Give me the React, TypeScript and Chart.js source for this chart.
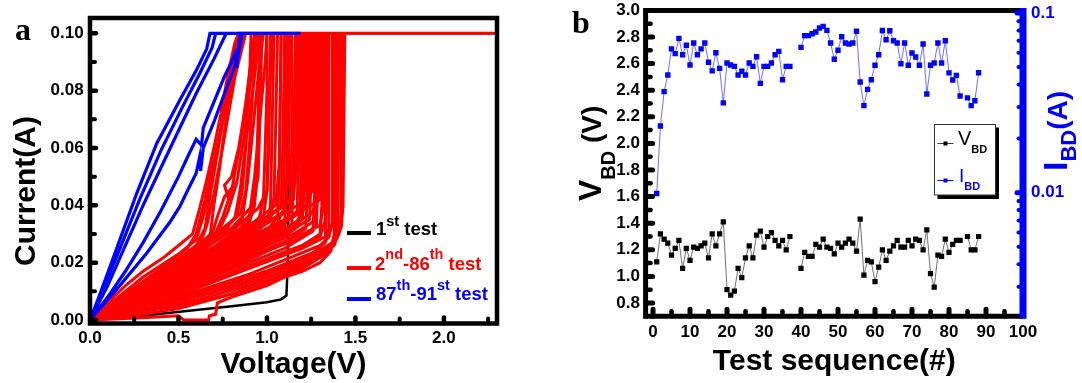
import React, { useEffect, useRef } from "react";
import { Chart, registerables } from "chart.js";

Chart.register(...registerables);

const W = 1082;
const H = 383;
const SANS = '"Liberation Sans", Arial, Helvetica, sans-serif';
const SERIF = '"Liberation Serif", "Times New Roman", serif';

// ================= Panel a : I-V sweeps (Voltage V, Current A) =================
const FIRST_TEST: number[][] = [
  [0, 0], [0.2, 0.0008], [0.4, 0.0022], [0.6, 0.0035], [0.8, 0.0048], [1.0, 0.0062],
  [1.08, 0.0072], [1.11, 0.0085], [1.115, 0.016], [1.12, 0.025], [1.125, 0.1], [2.3, 0.1],
];

const TESTS_2_TO_86: number[][][] = [
  [[0, 0], [0.1, 0.006], [0.2, 0.012], [0.3, 0.017], [0.41, 0.0215], [0.5, 0.026], [0.58, 0.03], [0.62, 0.039], [0.66, 0.049], [0.7, 0.06], [0.74, 0.072], [0.78, 0.086], [0.82, 0.097], [0.84, 0.1], [2.3, 0.1]],
  [[0, 0], [0.1, 0.005], [0.2, 0.01], [0.3, 0.015], [0.4, 0.019], [0.5, 0.023], [0.6, 0.028], [0.64, 0.036], [0.68, 0.047], [0.72, 0.06], [0.76, 0.074], [0.8, 0.087], [0.84, 0.097], [0.86, 0.1]],
  [[0, 0], [0.2, 0.008], [0.4, 0.016], [0.55, 0.022], [0.62, 0.026], [0.66, 0.033], [0.7, 0.044], [0.74, 0.057], [0.78, 0.071], [0.82, 0.085], [0.86, 0.095], [0.88, 0.1]],
  [[0, 0], [0.2, 0.007], [0.4, 0.014], [0.6, 0.022], [0.68, 0.028], [0.72, 0.036], [0.76, 0.043], [0.8, 0.046], [0.78, 0.043], [0.76, 0.047], [0.8, 0.05], [0.84, 0.06], [0.88, 0.075], [0.91, 0.09], [0.93, 0.1]],
  [[0, 0], [0.2, 0.007], [0.4, 0.015], [0.6, 0.024], [0.75, 0.031], [0.83, 0.036], [0.86, 0.045], [0.88, 0.06], [0.9, 0.08], [0.91, 0.1]],
  [[0, 0], [0.2, 0.009], [0.4, 0.018], [0.55, 0.025], [0.6, 0.03], [0.65, 0.042], [0.7, 0.056], [0.76, 0.072], [0.82, 0.088], [0.87, 0.1]],
  [[0, 0], [0.2, 0.008], [0.4, 0.017], [0.6, 0.026], [0.65, 0.032], [0.68, 0.044], [0.72, 0.058], [0.76, 0.073], [0.8, 0.088], [0.84, 0.1]],
  [[0, 0], [0.2, 0.008], [0.4, 0.016], [0.6, 0.025], [0.68, 0.03], [0.7, 0.04], [0.73, 0.052], [0.76, 0.066], [0.8, 0.082], [0.84, 0.096], [0.86, 0.1]],
  [[0, 0], [0.3, 0.011], [0.6, 0.024], [0.7, 0.029], [0.75, 0.036], [0.8, 0.045], [0.85, 0.062], [0.89, 0.08], [0.92, 0.095], [0.94, 0.1]],
  [[0, 0], [0.3, 0.011], [0.6, 0.023], [0.72, 0.03], [0.78, 0.038], [0.83, 0.048], [0.87, 0.064], [0.9, 0.08], [0.93, 0.095], [0.95, 0.1]],
  [[0, 0], [0.3, 0.01], [0.6, 0.022], [0.75, 0.03], [0.82, 0.036], [0.85, 0.046], [0.88, 0.062], [0.92, 0.08], [0.96, 0.1]],
  [[0, 0], [0.3, 0.01], [0.6, 0.021], [0.8, 0.03], [0.86, 0.035], [0.89, 0.048], [0.92, 0.066], [0.95, 0.085], [0.98, 0.1]],
  [[0, 0], [0.3, 0.009], [0.6, 0.02], [0.85, 0.031], [0.9, 0.036], [0.93, 0.05], [0.96, 0.07], [0.99, 0.09], [1.0, 0.1]],
  [[0, 0], [0.2, 0.006], [0.4, 0.013], [0.6, 0.021], [0.8, 0.029], [0.9, 0.034], [0.93, 0.04], [0.95, 0.055], [0.96, 0.075], [0.97, 0.1]],
  [[0, 0], [0.2, 0.006], [0.4, 0.012], [0.6, 0.019], [0.8, 0.027], [0.95, 0.034], [0.98, 0.042], [0.99, 0.06], [1.0, 0.08], [1.0, 0.1]],
  [[0, 0], [0.2, 0.005], [0.4, 0.011], [0.6, 0.018], [0.8, 0.025], [1.0, 0.034], [1.02, 0.04], [1.03, 0.07], [1.04, 0.1]],
  [[0, 0], [0.2, 0.005], [0.4, 0.011], [0.6, 0.017], [0.8, 0.024], [1.0, 0.031], [1.06, 0.036], [1.07, 0.05], [1.08, 0.1]],
  [[0, 0], [0.2, 0.005], [0.4, 0.01], [0.6, 0.016], [0.8, 0.022], [1.0, 0.029], [1.1, 0.034], [1.11, 0.045], [1.12, 0.1]],
  [[0, 0], [0.3, 0.007], [0.6, 0.015], [0.8, 0.021], [1.0, 0.027], [1.14, 0.033], [1.15, 0.05], [1.16, 0.1]],
  [[0, 0], [0.3, 0.007], [0.6, 0.014], [0.9, 0.023], [1.1, 0.029], [1.18, 0.033], [1.19, 0.045], [1.2, 0.1]],
  [[0, 0], [0.3, 0.006], [0.6, 0.013], [0.9, 0.021], [1.1, 0.027], [1.22, 0.032], [1.23, 0.05], [1.24, 0.1]],
  [[0, 0], [0.3, 0.006], [0.6, 0.013], [0.9, 0.02], [1.1, 0.025], [1.26, 0.031], [1.27, 0.045], [1.28, 0.1]],
  [[0, 0], [0.3, 0.006], [0.6, 0.012], [0.9, 0.019], [1.2, 0.026], [1.3, 0.03], [1.31, 0.04], [1.32, 0.1]],
  [[0, 0], [0.3, 0.005], [0.6, 0.011], [0.9, 0.018], [1.2, 0.025], [1.33, 0.029], [1.34, 0.045], [1.35, 0.1]],
  [[0, 0], [0.2, 0.008], [0.4, 0.016], [0.6, 0.025], [0.75, 0.032], [0.85, 0.037], [0.88, 0.045], [0.9, 0.06], [0.92, 0.08], [0.94, 0.1]],
  [[0, 0], [0.2, 0.007], [0.4, 0.015], [0.6, 0.023], [0.8, 0.031], [0.95, 0.039], [1.0, 0.045], [1.01, 0.06], [1.02, 0.1]],
  [[0, 0], [0.2, 0.007], [0.4, 0.014], [0.6, 0.022], [0.8, 0.029], [1.0, 0.036], [1.12, 0.041], [1.16, 0.048], [1.17, 0.1]],
  [[0, 0], [0.3, 0.009], [0.6, 0.019], [0.9, 0.028], [1.1, 0.034], [1.2, 0.038], [1.24, 0.042], [1.25, 0.1]],
  [[0, 0], [0.3, 0.008], [0.6, 0.017], [0.9, 0.026], [1.1, 0.032], [1.25, 0.037], [1.28, 0.041], [1.29, 0.1]],
  [[0, 0], [0.3, 0.009], [0.6, 0.019], [0.8, 0.027], [1.0, 0.035], [1.08, 0.04], [1.09, 0.06], [1.1, 0.1]],
  [[0, 0], [0.2, 0.007], [0.4, 0.015], [0.6, 0.024], [0.8, 0.032], [0.92, 0.04], [0.95, 0.05], [0.96, 0.07], [0.97, 0.1]],
  [[0, 0], [0.3, 0.009], [0.6, 0.019], [0.9, 0.031], [0.98, 0.036], [1.0, 0.045], [1.01, 0.07], [1.03, 0.1]],
  [[0, 0], [0.3, 0.008], [0.6, 0.018], [0.9, 0.029], [1.02, 0.035], [1.04, 0.043], [1.05, 0.07], [1.06, 0.1]],
  [[0, 0], [0.3, 0.008], [0.6, 0.017], [0.9, 0.027], [1.05, 0.033], [1.09, 0.038], [1.1, 0.06], [1.11, 0.1]],
  [[0, 0], [0.3, 0.007], [0.6, 0.016], [0.9, 0.026], [1.1, 0.033], [1.13, 0.038], [1.14, 0.06], [1.14, 0.1]],
  [[0, 0], [0.3, 0.008], [0.6, 0.017], [0.9, 0.027], [1.1, 0.034], [1.17, 0.038], [1.18, 0.06], [1.19, 0.1]],
  [[0, 0], [0.3, 0.007], [0.6, 0.015], [0.9, 0.025], [1.1, 0.031], [1.2, 0.035], [1.21, 0.05], [1.22, 0.1]],
  [[0, 0], [0.3, 0.007], [0.6, 0.015], [0.9, 0.024], [1.1, 0.03], [1.24, 0.035], [1.25, 0.05], [1.26, 0.1]],
  [[0, 0], [0.3, 0.006], [0.6, 0.014], [0.9, 0.023], [1.15, 0.03], [1.28, 0.035], [1.29, 0.05], [1.3, 0.1]],
  [[0, 0], [0.3, 0.006], [0.6, 0.014], [0.9, 0.022], [1.2, 0.03], [1.3, 0.033], [1.32, 0.04], [1.33, 0.1]],
  [[0, 0], [0.3, 0.01], [0.6, 0.021], [0.85, 0.032], [0.92, 0.038], [0.94, 0.05], [0.95, 0.07], [0.96, 0.1]],
  [[0, 0], [0.3, 0.01], [0.6, 0.02], [0.9, 0.033], [1.05, 0.04], [1.07, 0.055], [1.08, 0.1]],
  [[0, 0], [0.3, 0.009], [0.6, 0.019], [0.9, 0.03], [1.1, 0.038], [1.12, 0.05], [1.13, 0.1]],
  [[0, 0], [0.3, 0.008], [0.6, 0.018], [0.9, 0.028], [1.2, 0.038], [1.22, 0.05], [1.23, 0.1]],
  [[0, 0], [0.3, 0.009], [0.6, 0.02], [0.9, 0.032], [1.15, 0.042], [1.17, 0.06], [1.18, 0.1]],
  [[0, 0], [0.3, 0.009], [0.6, 0.019], [0.9, 0.03], [1.2, 0.041], [1.26, 0.045], [1.27, 0.1]],
  [[0, 0], [0.3, 0.008], [0.6, 0.018], [0.9, 0.029], [1.2, 0.038], [1.3, 0.042], [1.31, 0.1]],
  [[0, 0], [0.3, 0.005], [0.6, 0.01], [0.9, 0.016], [1.1, 0.021], [1.3, 0.026], [1.35, 0.029], [1.37, 0.034], [1.37, 0.1]],
  [[0, 0], [0.4, 0.006], [0.7, 0.011], [1.0, 0.017], [1.2, 0.022], [1.32, 0.025], [1.37, 0.027], [1.39, 0.031], [1.39, 0.1]],
  [[0, 0], [0.4, 0.005], [0.7, 0.01], [0.9, 0.014], [1.13, 0.0186], [1.3, 0.023], [1.36, 0.0256], [1.4, 0.029], [1.42, 0.0326], [1.43, 0.04], [1.44, 0.1]],
  [[0, 0], [0.4, 0.005], [0.74, 0.0105], [1.0, 0.016], [1.15, 0.02], [1.3, 0.024], [1.38, 0.027], [1.41, 0.031], [1.42, 0.037], [1.42, 0.1]],
  [[0, 0], [0.3, 0.002], [0.5, 0.004], [0.74, 0.008], [1.0, 0.013], [1.15, 0.017], [1.3, 0.022], [1.37, 0.026], [1.4, 0.03], [1.41, 0.1]],
  [[0, 0], [0.3, 0.0008], [0.5, 0.0015], [0.52, 0.0005], [0.53, 0], [0.67, 0], [0.675, 0.0015], [0.71, 0.002], [0.72, 0.006], [0.8, 0.008], [1.0, 0.012], [1.2, 0.018], [1.33, 0.023], [1.38, 0.028], [1.4, 0.035], [1.4, 0.1]],
  [[0, 0], [0.3, 0.004], [0.6, 0.009], [0.9, 0.015], [1.1, 0.019], [1.25, 0.023], [1.33, 0.027], [1.35, 0.032], [1.35, 0.1]],
  [[0, 0], [0.3, 0.003], [0.6, 0.007], [0.9, 0.012], [1.1, 0.016], [1.25, 0.02], [1.35, 0.024], [1.39, 0.028], [1.4, 0.1]],
  [[0, 0], [0.3, 0.004], [0.6, 0.008], [0.9, 0.013], [1.1, 0.017], [1.3, 0.022], [1.38, 0.026], [1.42, 0.033], [1.43, 0.1]],
  [[0, 0], [0.3, 0.003], [0.5, 0.005], [0.8, 0.009], [1.0, 0.013], [1.2, 0.017], [1.3, 0.02], [1.36, 0.024], [1.38, 0.03], [1.38, 0.1]],
  [[0, 0], [0.2, 0.004], [0.5, 0.01], [0.8, 0.016], [1.0, 0.021], [1.2, 0.026], [1.3, 0.029], [1.33, 0.035], [1.34, 0.1]],
  [[0, 0], [0.2, 0.005], [0.5, 0.012], [0.8, 0.019], [1.0, 0.024], [1.2, 0.029], [1.28, 0.033], [1.29, 0.1]],
  [[0, 0], [0.2, 0.005], [0.5, 0.013], [0.8, 0.022], [1.0, 0.028], [1.15, 0.033], [1.2, 0.037], [1.21, 0.1]],
];

const TESTS_87_TO_91: number[][][] = [
  [[0, 0], [0.05, 0.008], [0.141, 0.0233], [0.264, 0.0442], [0.377, 0.0616], [0.508, 0.0767], [0.6, 0.087], [0.659, 0.0945], [0.678, 0.1], [1.19, 0.1]],
  [[0, 0], [0.05, 0.007], [0.15, 0.022], [0.28, 0.042], [0.4, 0.059], [0.52, 0.074], [0.62, 0.086], [0.69, 0.095], [0.71, 0.1]],
  [[0, 0], [0.1, 0.012], [0.2, 0.026], [0.3, 0.04], [0.4, 0.053], [0.5, 0.066], [0.6, 0.079], [0.7, 0.091], [0.77, 0.1]],
  [[0, 0], [0.132, 0.0093], [0.32, 0.0233], [0.45, 0.034], [0.508, 0.0396], [0.55, 0.045], [0.6, 0.0512], [0.62, 0.057], [0.625, 0.052], [0.64, 0.06], [0.7, 0.069], [0.76, 0.079], [0.81, 0.087], [0.84, 0.093], [0.86, 0.1]],
  [[0, 0], [0.1, 0.008], [0.2, 0.017], [0.3, 0.027], [0.4, 0.038], [0.5, 0.05], [0.56, 0.058], [0.6, 0.063], [0.63, 0.061], [0.64, 0.067], [0.7, 0.076], [0.76, 0.085], [0.8, 0.09], [0.82, 0.093], [0.83, 0.088], [0.84, 0.096], [0.85, 0.1]],
];

// ================= Panel b : V_BD and I_BD vs test sequence =================
const TEST_SEQ: number[] = [
  1, 2, 3, 4, 5, 6, 7, 8, 9, 10, 11, 12, 13, 14, 15, 16, 17, 18, 19, 20,
  21, 22, 23, 24, 25, 26, 27, 28, 29, 30, 31, 32, 33, 34, 35, 36, 37, 38, 39, 40,
  41, 42, 43, 44, 45, 46, 47, 48, 49, 50, 51, 52, 53, 54, 55, 56, 57, 58, 59, 60,
  61, 62, 63, 64, 65, 66, 67, 68, 69, 70, 71, 72, 73, 74, 75, 76, 77, 78, 79, 80,
  81, 82, 83, 84, 85, 86, 87, 88,
];

const V_BD: (number | null)[] = [
  1.11, 1.32, 1.28, 1.25, 1.16, 1.21, 1.27, 1.06, 1.21, 1.12,
  1.22, 1.21, 1.23, 1.25, 1.14, 1.32, 1.23, 1.32, 1.41, 0.9,
  0.86, 0.89, 1.06, 0.99, 1.14, 1.23, 1.14, 1.31, 1.34, 1.22,
  1.3, 1.33, 1.27, 1.23, 1.27, 1.2, 1.3, null, null, 1.06,
  1.18, 1.15, 1.15, 1.24, 1.22, 1.28, 1.22, 1.21, 1.17, 1.25,
  1.22, 1.25, 1.28, 1.25, 1.19, 1.43, 1.01, 1.12, 1.11, 0.96,
  1.07, 1.2, 1.12, 1.19, 1.23, 1.27, 1.22, 1.22, 1.27, 1.23,
  1.28, 1.27, 1.2, 1.35, 1.02, 0.92, 1.16, 1.15, 1.28, 1.18,
  1.24, 1.27, 1.27, null, 1.3, 1.2, 1.2, 1.3,
];

const I_BD: (number | null)[] = [
  0.0099, 0.0235, 0.0365, 0.0452, 0.0631, 0.0594, 0.0723, 0.0586, 0.0661, 0.0514,
  0.0681, 0.0586, 0.0631, 0.0681, 0.0532, 0.0476, 0.0601, 0.0492, 0.0316, 0.0527,
  0.0514, 0.0505, 0.0452, 0.0474, 0.0452, 0.0527, 0.0505, 0.0571, 0.0406, 0.0505,
  0.0505, 0.0527, 0.0586, 0.0612, 0.0425, 0.0505, 0.0505, null, null, 0.0644,
  0.0748, 0.0748, 0.0767, 0.0784, 0.0825, 0.0843, 0.0801, 0.0681, 0.0553, 0.062,
  0.0738, 0.0681, 0.0672, 0.0681, 0.0791, 0.0413, 0.0305, 0.0376, 0.0425, 0.0512,
  0.0586, 0.0799, 0.071, 0.0797, 0.0701, 0.0681, 0.0522, 0.0681, 0.0512, 0.0599,
  0.0569, 0.0512, 0.0672, 0.0354, 0.0512, 0.0527, 0.0681, 0.0527, 0.0701, 0.0464,
  0.0424, 0.045, 0.0345, null, 0.0337, 0.0305, 0.0325, 0.0465,
];

const I_AXIS_TICKS: number[] = [
  0.003, 0.004, 0.005, 0.006, 0.007, 0.008, 0.009, 0.01,
  0.02, 0.03, 0.04, 0.05, 0.06, 0.07, 0.08, 0.09, 0.1,
];
const I_AXIS_LABELS: number[] = [0.01, 0.1];

// ================= helpers =================
type Part = { t: string; s: number; dy?: number; w?: string };

function seg(ctx: CanvasRenderingContext2D, x1: number, y1: number, x2: number, y2: number) {
  ctx.beginPath();
  ctx.moveTo(x1, y1);
  ctx.lineTo(x2, y2);
  ctx.stroke();
}

function rich(ctx: CanvasRenderingContext2D, x: number, y: number, parts: Part[], color: string) {
  ctx.fillStyle = color;
  ctx.textAlign = "left";
  ctx.textBaseline = "alphabetic";
  let cx = x;
  for (const p of parts) {
    ctx.font = `${p.w ?? "bold"} ${p.s}px ${SANS}`;
    ctx.fillText(p.t, cx, y + (p.dy ?? 0));
    cx += ctx.measureText(p.t).width;
  }
}

const tickFont = { family: SANS, size: 17, weight: "bold" as const };

// ================= panel a decorations =================
const panelAPlugin = {
  id: "panelA",
  afterDraw(chart: any) {
    const { ctx } = chart;
    const { left, right, top, bottom } = chart.chartArea;
    const xs = chart.scales.x;
    const ys = chart.scales.y;
    ctx.save();
    ctx.strokeStyle = "#000";
    ctx.lineCap = "round";
    for (let i = 0; i <= 10; i++) {
      const py = ys.getPixelForValue(i / 100);
      const major = i % 2 === 0;
      ctx.lineWidth = major ? 4.5 : 4;
      seg(ctx, left, py, left + (major ? 6 : 5), py);
    }
    for (let i = 1; i <= 9; i++) {
      const px = xs.getPixelForValue(i * 0.25);
      const major = i % 2 === 0;
      ctx.lineWidth = major ? 4.5 : 4;
      seg(ctx, px, bottom, px, bottom - (major ? 6 : 5));
    }
    ctx.lineCap = "butt";
    ctx.lineWidth = 4.5;
    ctx.strokeRect(left, top, right - left, bottom - top);

    // panel letter
    ctx.fillStyle = "#000";
    ctx.font = `bold 32px ${SERIF}`;
    ctx.textAlign = "left";
    ctx.textBaseline = "alphabetic";
    ctx.fillText("a", 15, 40);

    // axis titles
    ctx.font = `bold 30px ${SANS}`;
    ctx.textAlign = "center";
    ctx.fillText("Voltage(V)", (left + right) / 2, 373);
    ctx.save();
    ctx.translate(34.5, 191);
    ctx.rotate(-Math.PI / 2);
    ctx.fillText("Current(A)", 0, 0);
    ctx.restore();

    // legend
    ctx.lineWidth = 4;
    ctx.strokeStyle = "#000";
    seg(ctx, 347, 233, 371, 233);
    rich(ctx, 376, 235, [{ t: "1", s: 18.5 }, { t: "st", s: 14.5, dy: -9 }, { t: " test", s: 18.5 }], "#000");
    ctx.strokeStyle = "#ff0000";
    seg(ctx, 347, 268, 371, 268);
    rich(ctx, 375, 270, [{ t: "2", s: 18.5 }, { t: "nd", s: 14.5, dy: -11 }, { t: "-86", s: 18.5 }, { t: "th", s: 14.5, dy: -11 }, { t: " test", s: 18.5 }], "#ff0000");
    ctx.strokeStyle = "#0000ff";
    seg(ctx, 347, 299, 371, 299);
    rich(ctx, 376, 300, [{ t: "87", s: 18.5 }, { t: "th", s: 14.5, dy: -10 }, { t: "-91", s: 18.5 }, { t: "st", s: 14.5, dy: -10 }, { t: " test", s: 18.5 }], "#0000ff");
    ctx.restore();
  },
};

// ================= panel b decorations =================
const panelBPlugin = {
  id: "panelB",
  afterDraw(chart: any) {
    const { ctx } = chart;
    const { left, right, top, bottom } = chart.chartArea;
    const xs = chart.scales.x;
    const ys = chart.scales.y;
    const y2 = chart.scales.y2;
    ctx.save();
    ctx.strokeStyle = "#000";
    ctx.lineCap = "round";
    for (let i = 8; i <= 30; i++) {
      const py = ys.getPixelForValue(i / 10);
      const major = i % 2 === 0;
      ctx.lineWidth = major ? 5 : 4.5;
      seg(ctx, left, py, left + (major ? 7 : 5), py);
    }
    for (let i = 0; i < 20; i++) {
      const px = xs.getPixelForValue(i * 5);
      const major = i % 2 === 0;
      ctx.lineWidth = major ? 5 : 4.5;
      seg(ctx, px, bottom, px, bottom - (major ? 7 : 5));
    }
    ctx.lineCap = "butt";
    ctx.lineWidth = 5;
    seg(ctx, left, top, right, top);
    seg(ctx, left, bottom, right, bottom);
    seg(ctx, left, top - 2.5, left, bottom + 2.5);
    ctx.strokeStyle = "#0000ff";
    ctx.lineWidth = 7;
    seg(ctx, right, top - 2.5, right, bottom + 2.5);
    ctx.lineCap = "round";
    for (const v of I_AXIS_TICKS) {
      const py = y2.getPixelForValue(v);
      const major = I_AXIS_LABELS.includes(v);
      ctx.lineWidth = major ? 5 : 4;
      seg(ctx, right - (major ? 6 : 4.5), py, right, py);
    }

    // panel letter
    ctx.fillStyle = "#000";
    ctx.font = `bold 32px ${SERIF}`;
    ctx.textAlign = "left";
    ctx.textBaseline = "alphabetic";
    ctx.fillText("b", 572, 33);

    // x title
    ctx.font = `bold 30px ${SANS}`;
    ctx.textAlign = "center";
    ctx.fillText("Test sequence(#)", (left + right) / 2, 370);

    // left title V_BD (V)
    ctx.save();
    ctx.translate(600.5, 201);
    ctx.rotate(-Math.PI / 2);
    rich(ctx, 0, 0, [{ t: "V", s: 32 }, { t: "BD", s: 20, dy: 14 }, { t: " (V)", s: 28 }], "#000");
    ctx.restore();

    // right title I_BD(A)
    ctx.save();
    ctx.translate(1067, 171);
    ctx.rotate(-Math.PI / 2);
    rich(ctx, 0, 0, [{ t: "I", s: 34 }, { t: "BD", s: 22, dy: 9 }, { t: "(A)", s: 28 }], "#0000ff");
    ctx.restore();

    // legend box
    ctx.fillStyle = "#000";
    ctx.fillRect(937.5, 127.5, 61.5, 71.5);
    ctx.fillStyle = "#fff";
    ctx.fillRect(934.5, 124.5, 61, 70.5);
    ctx.strokeStyle = "#333";
    ctx.lineWidth = 1;
    ctx.lineCap = "butt";
    ctx.strokeRect(934.5, 124.5, 61, 70.5);

    ctx.strokeStyle = "#444";
    seg(ctx, 937.5, 143.5, 953.5, 143.5);
    ctx.fillStyle = "#000";
    ctx.fillRect(943.5, 141.5, 4, 4);
    rich(ctx, 958, 145, [{ t: "V", s: 20, w: "normal" }, { t: "BD", s: 11, dy: 8 }], "#000");

    ctx.strokeStyle = "#0000ff";
    seg(ctx, 937.5, 180.5, 953.5, 180.5);
    ctx.fillStyle = "#0000ff";
    ctx.fillRect(943.5, 178.5, 4, 4);
    rich(ctx, 959, 182, [{ t: "I", s: 19, w: "normal" }, { t: "BD", s: 11, dy: 8 }], "#0000ff");
    ctx.restore();
  },
};

const toXY = (c: number[][]) => c.map(([x, y]) => ({ x, y }));

function fixWidth(w: number) {
  return (s: any) => {
    s.width = w;
    s.paddingTop = 0;
    s.paddingBottom = 0;
  };
}
function fixHeight(h: number) {
  return (s: any) => {
    s.height = h;
    s.paddingLeft = 0;
    s.paddingRight = 0;
  };
}

function configA(): any {
  const datasets: any[] = [];
  TESTS_87_TO_91.forEach((c) =>
    datasets.push({ data: toXY(c), borderColor: "#0000ff", borderWidth: 3.2, pointRadius: 0, showLine: true, order: 0 })
  );
  TESTS_2_TO_86.forEach((c) =>
    datasets.push({ data: toXY(c), borderColor: "#ff0000", borderWidth: 3, pointRadius: 0, showLine: true, order: 1 })
  );
  datasets.push({ data: toXY(FIRST_TEST), borderColor: "#000000", borderWidth: 2.5, pointRadius: 0, showLine: true, order: 2 });

  return {
    type: "scatter",
    data: { datasets },
    options: {
      responsive: false,
      animation: false,
      devicePixelRatio: 1,
      events: [],
      layout: { padding: { left: 0, right: W - 497, top: 18, bottom: 0 } },
      plugins: { legend: { display: false }, tooltip: { enabled: false } },
      scales: {
        x: {
          type: "linear",
          position: "bottom",
          min: 0,
          max: 2.3,
          grid: { display: false, drawTicks: false },
          border: { display: false },
          ticks: {
            stepSize: 0.5,
            includeBounds: false,
            autoSkip: false,
            maxRotation: 0,
            padding: 4.4,
            color: "#000",
            font: tickFont,
            callback: (v: any) => Number(v).toFixed(1),
          },
          afterFit: fixHeight(H - 323.5),
        },
        y: {
          type: "linear",
          position: "left",
          min: -0.00122,
          max: 0.10534,
          grid: { display: false, drawTicks: false },
          border: { display: false },
          ticks: {
            stepSize: 0.02,
            includeBounds: false,
            autoSkip: false,
            padding: 6.4,
            color: "#000",
            font: tickFont,
            callback: (v: any) => Number(v).toFixed(2),
          },
          afterFit: fixWidth(90),
        },
      },
    },
    plugins: [panelAPlugin],
  };
}

function configB(): any {
  const vData = TEST_SEQ.map((x, i) => ({ x, y: V_BD[i] }));
  const iData = TEST_SEQ.map((x, i) => ({ x, y: I_BD[i] }));
  return {
    type: "scatter",
    data: {
      datasets: [
        {
          data: iData,
          yAxisID: "y2",
          showLine: true,
          spanGaps: false,
          borderColor: "#6f6fff",
          borderWidth: 1,
          pointStyle: "rect",
          pointRadius: 3.8,
          pointBackgroundColor: "#0000ff",
          pointBorderColor: "#0000ff",
          pointBorderWidth: 0,
        },
        {
          data: vData,
          yAxisID: "y",
          showLine: true,
          spanGaps: false,
          borderColor: "#707070",
          borderWidth: 1,
          pointStyle: "rect",
          pointRadius: 3.7,
          pointBackgroundColor: "#000",
          pointBorderColor: "#000",
          pointBorderWidth: 0,
        },
      ],
    },
    options: {
      responsive: false,
      animation: false,
      devicePixelRatio: 1,
      events: [],
      layout: { padding: { left: 0, right: 0, top: 10.4, bottom: 0 } },
      plugins: { legend: { display: false }, tooltip: { enabled: false } },
      scales: {
        x: {
          type: "linear",
          position: "bottom",
          min: -2,
          max: 100,
          grid: { display: false, drawTicks: false },
          border: { display: false },
          ticks: {
            stepSize: 10,
            includeBounds: false,
            autoSkip: false,
            maxRotation: 0,
            padding: 6,
            color: "#000",
            font: tickFont,
            callback: (v: any) => String(Math.round(Number(v))),
          },
          afterFit: fixHeight(H - 316.3),
        },
        y: {
          type: "linear",
          position: "left",
          min: 0.7,
          max: 3.0,
          grid: { display: false, drawTicks: false },
          border: { display: false },
          ticks: {
            stepSize: 0.2,
            includeBounds: false,
            autoSkip: false,
            padding: 5.6,
            color: "#000",
            font: tickFont,
            callback: (v: any) => Number(v).toFixed(1),
          },
          afterFit: fixWidth(645.6),
        },
        y2: {
          type: "logarithmic",
          position: "right",
          min: 0.002052,
          max: 0.10339,
          grid: { display: false, drawTicks: false },
          border: { display: false },
          ticks: {
            autoSkip: false,
            padding: 8,
            color: "#0000ff",
            font: tickFont,
            callback: (v: any) => {
              const n = Number(v);
              for (const L of I_AXIS_LABELS) {
                if (Math.abs(n - L) / L < 1e-6) return String(L);
              }
              return "";
            },
          },
          afterFit: fixWidth(W - 1023),
        },
      },
    },
    plugins: [panelBPlugin],
  };
}

export default function App() {
  const refA = useRef<HTMLCanvasElement>(null);
  const refB = useRef<HTMLCanvasElement>(null);

  useEffect(() => {
    Chart.defaults.font.family = SANS;
    Chart.defaults.color = "#000";
    const a = new Chart(refA.current as HTMLCanvasElement, configA());
    const b = new Chart(refB.current as HTMLCanvasElement, configB());
    return () => {
      a.destroy();
      b.destroy();
    };
  }, []);

  const cStyle: React.CSSProperties = { position: "absolute", left: 0, top: 0, width: W, height: H };
  return (
    <div style={{ position: "absolute", left: 0, top: 0, width: W, height: H, background: "#fff", overflow: "hidden" }}>
      <canvas ref={refA} width={W} height={H} style={cStyle} />
      <canvas ref={refB} width={W} height={H} style={cStyle} />
    </div>
  );
}
